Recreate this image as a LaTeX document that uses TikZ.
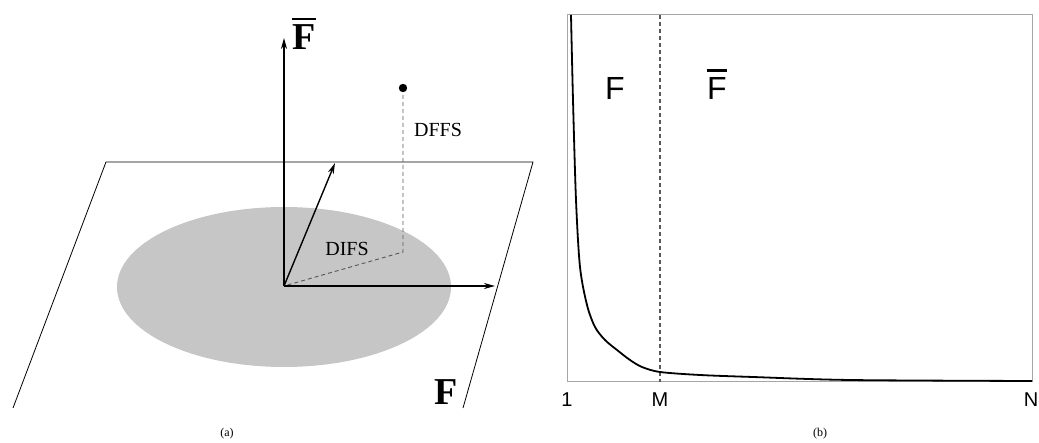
\documentclass[tikz,border=0pt]{standalone}
\usepackage{fontspec}
\setmainfont{Liberation Serif}
\newfontfamily\sansf{Liberation Sans}
\usetikzlibrary{arrows.meta}
\newcommand{\barF}[2]{\vbox{\hrule height #1\kern #2\hbox{F}}}
\begin{document}
\begin{tikzpicture}[x=1pt,y=-1pt,
  axisarrow/.style={line width=1.7pt,-{Stealth[length=11pt,width=6pt]}},
  thinline/.style={line width=0.8pt},
  dashline/.style={line width=0.9pt,gray!70!black,dash pattern=on 4pt off 3pt},
  serlab/.style={inner sep=0pt,anchor=base,font=\fontsize{20}{20}\selectfont},
  bigF/.style={inner sep=0pt,anchor=base,font=\fontsize{38}{38}\selectfont\bfseries},
  sanslab/.style={inner sep=0pt,anchor=base,font=\fontsize{32}{32}\selectfont\sansf},
  ticklab/.style={inner sep=0pt,anchor=base,font=\fontsize{20}{20}\selectfont\sansf},
  caplab/.style={inner sep=0pt,font=\fontsize{12}{12}\selectfont}]
\useasboundingbox (0,0) rectangle (1039,443);
% ---------- panel (a) ----------
\coordinate (TL) at (106,162);
\coordinate (TR) at (533,162);
\coordinate (BL) at (13,408);
\coordinate (BR) at (463,408);
\draw[thinline] (BL) -- (TL) -- (TR) -- (BR);
\fill[gray!45] (284,287) ellipse [x radius=167, y radius=80];
\coordinate (O) at (284,286);
\coordinate (up) at (284,38);
\coordinate (rt) at (495,286);
\coordinate (dg) at (335,163);
\coordinate (pt) at (403,88);
\coordinate (proj) at (403,252);
\draw[dashline] (pt) -- (proj) -- (O);
\fill (pt) circle (4.2);
\draw[axisarrow] (O) -- (up);
\draw[axisarrow] (O) -- (rt);
\draw[axisarrow,line width=1.4pt] (O) -- (dg);
\node[bigF] (Fbar) at (304,50) {\barF{2.6pt}{5pt}};
\node[bigF] (Fa) at (446,405) {F};
\node[serlab] (dffs) at (438,137) {DFFS};
\node[serlab] (difs) at (347,256) {DIFS};
\node[caplab] (capa) at (227,434) {(a)};
% ---------- panel (b) ----------
\coordinate (b1) at (567,15);
\coordinate (b2) at (1032,382);
\draw[line width=1pt,gray!70] (b1) rectangle (b2);
\coordinate (mt) at (660,15);
\coordinate (mb) at (660,382);
\draw[dashline,line width=1.1pt] (mt) -- (mb);
\draw[line width=1.8pt,line join=round] plot[smooth,tension=0.5] coordinates {
  (571,15) (573,100) (576,200) (580,267) (587,305) (595,327) (605,340)
  (617,350) (630,360) (642,367) (660,372) (700,375) (753,377) (850,380) (1032,381)};
\node[sanslab] (Fb) at (615,100) {F};
\node[sanslab] (Fbb) at (717,100) {\barF{2.8pt}{6pt}};
\node[ticklab] (t1) at (567,407) {1};
\node[ticklab] (tM) at (660,407) {M};
\node[ticklab] (tN) at (1031,407) {N};
\node[caplab] (capb) at (820,434) {(b)};
\end{tikzpicture}
\end{document}
